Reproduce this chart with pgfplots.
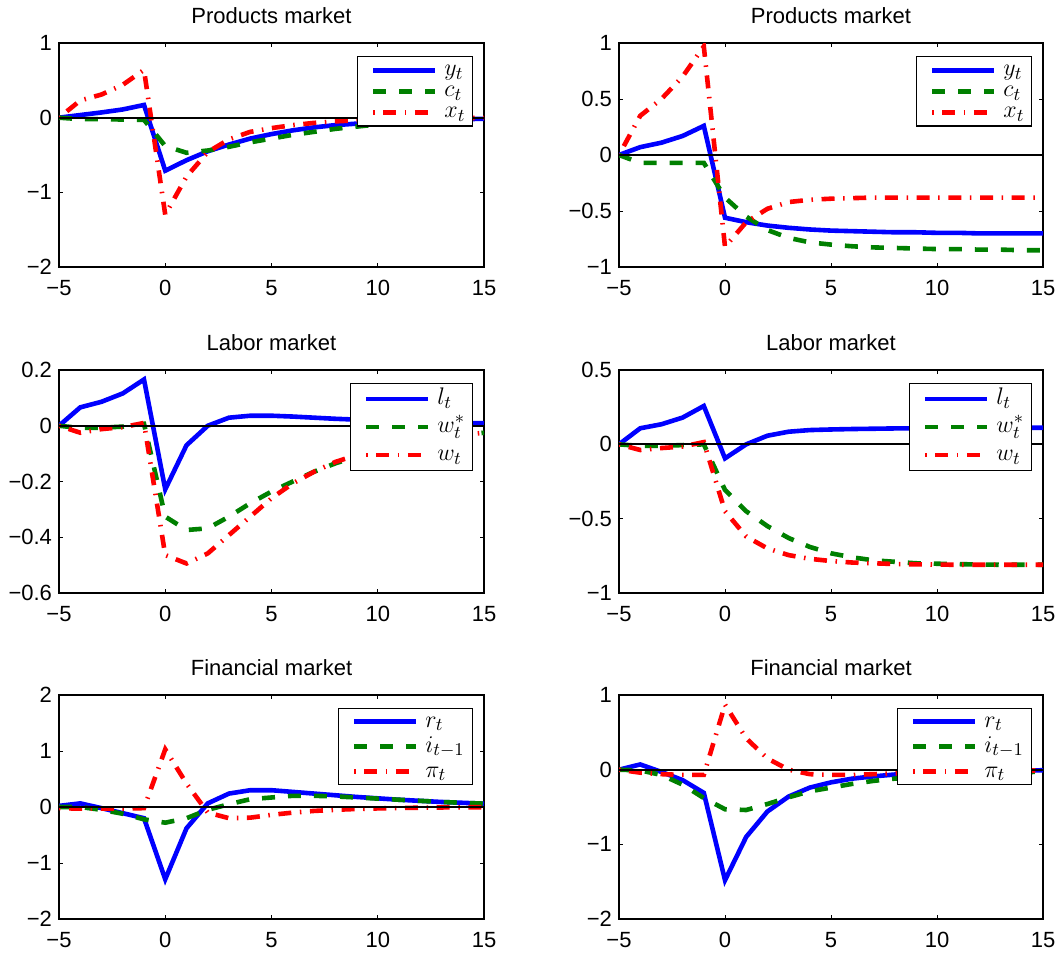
\documentclass[border=0pt]{standalone}
\usepackage{fontspec}
\setmainfont{Liberation Sans}
\usepackage{pgfplots}
\pgfplotsset{compat=1.18}

\definecolor{mblue}{rgb}{0,0,1}
\definecolor{mgreen}{rgb}{0,0.5,0}
\definecolor{mred}{rgb}{1,0,0}

\pgfplotsset{
  irf/.style={
    scale only axis, width=212.5pt, height=112pt,
    xmin=-5, xmax=15,
    xtick={-5,0,5,10,15}, xticklabels={−5,0,5,10,15},
    tick align=inside, major tick length=2.2pt,
    every tick/.style={black, line width=0.5pt},
    axis line style={line width=0.65pt},
    ticklabel style={font=\fontsize{11}{13}\selectfont},
    xticklabel style={yshift=-3pt},
    title style={font=\fontsize{11}{13}\selectfont, at={(0.5,1)}, anchor=base, yshift=4pt},
    legend cell align=left,
    legend style={at={(1,1)}, anchor=north east, xshift=-5.5pt, yshift=-6.5pt,
      draw=black, line width=0.6pt, inner xsep=0pt, row sep=0pt, column sep=3.5pt,
      font=\fontsize{13}{15}\selectfont,
      nodes={inner xsep=0pt, inner ysep=0pt}},
    legend image code/.code={\path (-6.5pt,0pt); \draw[##1] (0pt,0pt) -- (31pt,0pt);},
  },
  sA/.style={mblue, line width=2.3pt},
  sB/.style={mgreen, line width=2.3pt, dash pattern=on 6.5pt off 6.5pt},
  sC/.style={mred, line width=2.3pt, dash pattern=on 0.75pt off 4.3pt on 6.5pt off 4.3pt},
  zero/.style={black, line width=1pt, forget plot},
  legP/.style={legend style={inner ysep=1.6pt, nodes={text height=8.05pt, text depth=2.45pt, text width=14pt}}},
  legL/.style={legend style={inner ysep=0.7pt, nodes={text height=9.8pt, text depth=4.2pt, text width=17.5pt}}},
  legF/.style={legend style={inner ysep=0.3pt, nodes={text height=9.05pt, text depth=3.45pt, text width=23.5pt}}},
}

\begin{document}
\begin{tikzpicture}
\useasboundingbox (0,0) rectangle (531.5pt,-479pt);

% ---- Products market, left
\begin{axis}[irf, legP, at={(29.5pt,-21.5pt)}, anchor=north west,
  title={Products market}, ymin=-2, ymax=1,
  ytick={-2,-1,0,1}, yticklabels={−2,−1,0,1}]
\addplot[sA] coordinates {(-5,0)(-4,0.035)(-3,0.07)(-2,0.11)(-1,0.17)(0,-0.71)(1,-0.57)(2,-0.45)(3,-0.36)(4,-0.28)(5,-0.22)(6,-0.17)(7,-0.13)(8,-0.10)(9,-0.08)(10,-0.06)(11,-0.045)(12,-0.035)(13,-0.025)(14,-0.02)(15,-0.015)};
\addplot[sB] coordinates {(-5,0)(-4,-0.02)(-3,-0.02)(-2,-0.025)(-1,-0.03)(0,-0.38)(1,-0.47)(2,-0.44)(3,-0.39)(4,-0.33)(5,-0.28)(6,-0.23)(7,-0.19)(8,-0.15)(9,-0.12)(10,-0.09)(11,-0.07)(12,-0.06)(13,-0.05)(14,-0.04)(15,-0.03)};
\addplot[sC] coordinates {(-5,0)(-4,0.23)(-3,0.31)(-2,0.44)(-1,0.64)(0,-1.3)(1,-0.79)(2,-0.46)(3,-0.29)(4,-0.19)(5,-0.14)(6,-0.10)(7,-0.07)(8,-0.05)(9,-0.035)(10,-0.025)(11,-0.018)(12,-0.012)(13,-0.008)(14,-0.005)(15,-0.003)};
\addplot[zero] coordinates {(-5,0)(15,0)};
\legend{$y_t$,$c_t$,$x_t$}
\end{axis}

% ---- Products market, right
\begin{axis}[irf, legP, at={(309.5pt,-21.5pt)}, anchor=north west, width=212pt,
  title={Products market}, ymin=-1, ymax=1,
  ytick={-1,-0.5,0,0.5,1}, yticklabels={−1,−0.5,0,0.5,1}]
\addplot[sA] coordinates {(-5,0)(-4,0.07)(-3,0.11)(-2,0.17)(-1,0.26)(0,-0.56)(1,-0.60)(2,-0.63)(3,-0.65)(4,-0.665)(5,-0.675)(6,-0.68)(7,-0.685)(8,-0.69)(9,-0.69)(10,-0.695)(11,-0.695)(12,-0.70)(13,-0.70)(14,-0.70)(15,-0.70)};
\addplot[sB] coordinates {(-5,0)(-4,-0.07)(-3,-0.07)(-2,-0.07)(-1,-0.07)(0,-0.38)(1,-0.55)(2,-0.67)(3,-0.74)(4,-0.78)(5,-0.80)(6,-0.815)(7,-0.825)(8,-0.83)(9,-0.835)(10,-0.84)(11,-0.84)(12,-0.845)(13,-0.845)(14,-0.85)(15,-0.85)};
\addplot[sC] coordinates {(-5,0)(-4,0.35)(-3,0.5)(-2,0.7)(-1,0.97)(0,-0.82)(1,-0.6)(2,-0.48)(3,-0.42)(4,-0.40)(5,-0.39)(6,-0.385)(7,-0.38)(8,-0.38)(9,-0.38)(10,-0.38)(11,-0.38)(12,-0.38)(13,-0.38)(14,-0.38)(15,-0.38)};
\addplot[zero] coordinates {(-5,0)(15,0)};
\legend{$y_t$,$c_t$,$x_t$}
\end{axis}

% ---- Labor market, left
\begin{axis}[irf, legL, at={(29.5pt,-185pt)}, anchor=north west, height=111.5pt,
  title={Labor market}, ymin=-0.6, ymax=0.2,
  ytick={-0.6,-0.4,-0.2,0,0.2}, yticklabels={−0.6,−0.4,−0.2,0,0.2}]
\addplot[sA] coordinates {(-5,0)(-4,0.066)(-3,0.086)(-2,0.116)(-1,0.166)(0,-0.228)(1,-0.07)(2,0.0)(3,0.029)(4,0.036)(5,0.036)(6,0.033)(7,0.029)(8,0.025)(9,0.022)(10,0.019)(11,0.016)(12,0.014)(13,0.012)(14,0.01)(15,0.009)};
\addplot[sB] coordinates {(-5,0)(-4,-0.008)(-3,-0.007)(-2,-0.003)(-1,0.007)(0,-0.326)(1,-0.374)(2,-0.368)(3,-0.326)(4,-0.278)(5,-0.236)(6,-0.2)(7,-0.165)(8,-0.135)(9,-0.11)(10,-0.09)(11,-0.072)(12,-0.057)(13,-0.045)(14,-0.034)(15,-0.025)};
\addplot[sC] coordinates {(-5,0)(-4,-0.025)(-3,-0.012)(-2,-0.005)(-1,0.01)(0,-0.464)(1,-0.494)(2,-0.458)(3,-0.392)(4,-0.326)(5,-0.26)(6,-0.207)(7,-0.165)(8,-0.13)(9,-0.105)(10,-0.085)(11,-0.068)(12,-0.054)(13,-0.042)(14,-0.033)(15,-0.025)};
\addplot[zero] coordinates {(-5,0)(15,0)};
\legend{$l_t$,$w_t^*$,$w_t$}
\end{axis}

% ---- Labor market, right
\begin{axis}[irf, legL, at={(309.5pt,-185pt)}, anchor=north west, width=212pt, height=111.5pt,
  title={Labor market}, ymin=-1, ymax=0.5,
  ytick={-1,-0.5,0,0.5}, yticklabels={−1,−0.5,0,0.5}]
\addplot[sA] coordinates {(-5,0)(-4,0.108)(-3,0.135)(-2,0.18)(-1,0.258)(0,-0.094)(1,0.0)(2,0.058)(3,0.085)(4,0.096)(5,0.10)(6,0.103)(7,0.105)(8,0.107)(9,0.108)(10,0.109)(11,0.11)(12,0.11)(13,0.111)(14,0.111)(15,0.112)};
\addplot[sB] coordinates {(-5,0)(-4,-0.011)(-3,-0.01)(-2,-0.005)(-1,0.0)(0,-0.307)(1,-0.45)(2,-0.55)(3,-0.63)(4,-0.69)(5,-0.733)(6,-0.76)(7,-0.78)(8,-0.79)(9,-0.80)(10,-0.803)(11,-0.806)(12,-0.808)(13,-0.81)(14,-0.81)(15,-0.81)};
\addplot[sC] coordinates {(-5,0)(-4,-0.038)(-3,-0.025)(-2,-0.015)(-1,0.015)(0,-0.45)(1,-0.62)(2,-0.70)(3,-0.745)(4,-0.77)(5,-0.785)(6,-0.795)(7,-0.80)(8,-0.805)(9,-0.807)(10,-0.809)(11,-0.81)(12,-0.81)(13,-0.81)(14,-0.81)(15,-0.81)};
\addplot[zero] coordinates {(-5,0)(15,0)};
\legend{$l_t$,$w_t^*$,$w_t$}
\end{axis}

% ---- Financial market, left
\begin{axis}[irf, legF, at={(29.5pt,-347.5pt)}, anchor=north west,
  title={Financial market}, ymin=-2, ymax=2,
  ytick={-2,-1,0,1,2}, yticklabels={−2,−1,0,1,2}]
\addplot[sA] coordinates {(-5,0.02)(-4,0.065)(-3,-0.02)(-2,-0.11)(-1,-0.2)(0,-1.29)(1,-0.38)(2,0.065)(3,0.24)(4,0.30)(5,0.30)(6,0.27)(7,0.24)(8,0.21)(9,0.18)(10,0.155)(11,0.13)(12,0.11)(13,0.09)(14,0.075)(15,0.06)};
\addplot[sB] coordinates {(-5,0)(-4,0)(-3,-0.05)(-2,-0.12)(-1,-0.22)(0,-0.28)(1,-0.2)(2,-0.05)(3,0.05)(4,0.14)(5,0.17)(6,0.2)(7,0.2)(8,0.19)(9,0.17)(10,0.15)(11,0.13)(12,0.11)(13,0.09)(14,0.075)(15,0.06)};
\addplot[sC] coordinates {(-5,-0.02)(-4,-0.03)(-3,-0.03)(-2,-0.03)(-1,-0.02)(0,1.03)(1,0.42)(2,-0.1)(3,-0.2)(4,-0.19)(5,-0.14)(6,-0.1)(7,-0.07)(8,-0.05)(9,-0.035)(10,-0.025)(11,-0.018)(12,-0.012)(13,-0.008)(14,-0.005)(15,-0.003)};
\addplot[zero] coordinates {(-5,0)(15,0)};
\legend{$r_t$,$i_{t-1}$,$\pi_t$}
\end{axis}

% ---- Financial market, right
\begin{axis}[irf, legF, at={(309.5pt,-347.5pt)}, anchor=north west, width=212pt,
  title={Financial market}, ymin=-2, ymax=1,
  ytick={-2,-1,0,1}, yticklabels={−2,−1,0,1}]
\addplot[sA] coordinates {(-5,0)(-4,0.07)(-3,-0.03)(-2,-0.14)(-1,-0.31)(0,-1.48)(1,-0.9)(2,-0.56)(3,-0.36)(4,-0.24)(5,-0.17)(6,-0.12)(7,-0.09)(8,-0.065)(9,-0.048)(10,-0.035)(11,-0.026)(12,-0.019)(13,-0.014)(14,-0.01)(15,-0.008)};
\addplot[sB] coordinates {(-5,0)(-4,-0.01)(-3,-0.07)(-2,-0.2)(-1,-0.38)(0,-0.53)(1,-0.54)(2,-0.46)(3,-0.37)(4,-0.29)(5,-0.24)(6,-0.19)(7,-0.15)(8,-0.12)(9,-0.1)(10,-0.08)(11,-0.065)(12,-0.052)(13,-0.042)(14,-0.034)(15,-0.027)};
\addplot[sC] coordinates {(-5,0)(-4,-0.04)(-3,-0.06)(-2,-0.07)(-1,-0.07)(0,0.87)(1,0.42)(2,0.15)(3,0.0)(4,-0.06)(5,-0.07)(6,-0.07)(7,-0.06)(8,-0.05)(9,-0.04)(10,-0.03)(11,-0.025)(12,-0.02)(13,-0.015)(14,-0.012)(15,-0.01)};
\addplot[zero] coordinates {(-5,0)(15,0)};
\legend{$r_t$,$i_{t-1}$,$\pi_t$}
\end{axis}
\end{tikzpicture}
\end{document}
